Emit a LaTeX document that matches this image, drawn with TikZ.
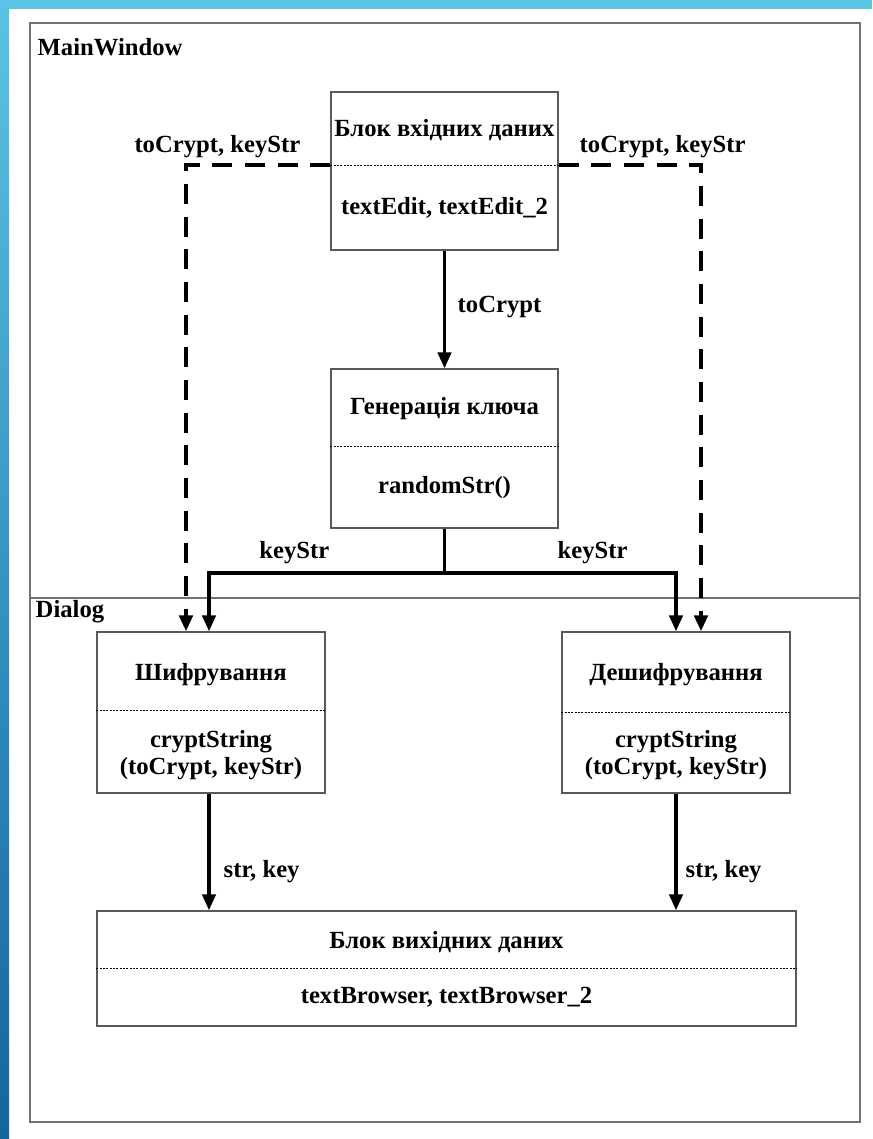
\documentclass[tikz,border=0pt]{standalone}
\usepackage{fontspec}
\setmainfont{Liberation Serif}
\usetikzlibrary{arrows.meta}
\definecolor{bandtop}{RGB}{90,196,228}
\definecolor{bandbot}{RGB}{20,100,160}

\begin{document}
\begin{tikzpicture}[x=.75pt,y=-.75pt,font=\fontsize{18.5}{20}\selectfont\bfseries,
 box/.style={draw=black!65,line width=1pt,inner sep=0pt},
 sep/.style={line width=.6pt,dash pattern=on 1.5pt off 1pt},
 flow/.style={line width=2.6pt,-{Triangle[length=12pt,width=10pt]}},
 opt/.style={line width=3.4pt,dash pattern=on 15pt off 9.5pt,-{Triangle[length=12pt,width=10pt]}},
 frm/.style={draw=black!55,line width=1.6pt}]
 \useasboundingbox (0,0) rectangle (872,1139);
 \fill[white] (0,0) rectangle (872,1139);
 \fill[bandtop] (0,0) rectangle (872,9);
 \shade[top color=bandtop,bottom color=bandbot] (0,0) rectangle (9,1139);
 % windows
 \draw[frm] (30,23) rectangle (860,1122);
 \draw[frm] (30,598) -- (860,598);
 \node[anchor=west] (mw) at (33,47) {MainWindow};
 \node[anchor=west] (dl) at (31,612) {Dialog};
 % blocks
 \node[box,minimum width=170.25pt,minimum height=118.5pt] (inp) at (444.5,171) {};
 \draw[sep] ([yshift=4.5pt]inp.west) -- ([yshift=4.5pt]inp.east);
 \node (inpT) at (444.5,130) {Блок вхідних даних};
 \node (inpB) at (444.5,208) {textEdit, textEdit\_2};
 \node[box,minimum width=170.25pt,minimum height=119.25pt] (gen) at (444.5,448.5) {};
 \draw[sep] ([yshift=1.9pt]gen.west) -- ([yshift=1.9pt]gen.east);
 \node (genT) at (444.5,409) {Генерація ключа};
 \node (genB) at (444.5,488) {randomStr()};
 \node[box,minimum width=171pt,minimum height=120.75pt] (enc) at (211,712.5) {};
 \draw[sep] ([yshift=1.9pt]enc.west) -- ([yshift=1.9pt]enc.east);
 \node (encT) at (211,675) {Шифрування};
 \node[align=center] (encB) at (211,755) {cryptString\\(toCrypt, keyStr)};
 \node[box,minimum width=171pt,minimum height=120.75pt] (dec) at (676,712.5) {};
 \draw[sep] ([yshift=.4pt]dec.west) -- ([yshift=.4pt]dec.east);
 \node (decT) at (676,675) {Дешифрування};
 \node[align=center] (decB) at (676,755) {cryptString\\(toCrypt, keyStr)};
 \node[box,minimum width=524.25pt,minimum height=86.25pt] (out) at (446.5,968.5) {};
 \draw[sep] ([yshift=.4pt]out.west) -- ([yshift=.4pt]out.east);
 \node (outT) at (446.5,942) {Блок вихідних даних};
 \node (outB) at (446.5,997) {textBrowser, textBrowser\_2};
 % connectors
 \coordinate (spl) at (444.5,573);
 \draw[flow] (inp) -- (gen);
 \draw[line width=2.6pt] (gen) -- (spl);
 \draw[flow] (spl) -| ([xshift=-1.5pt]enc.north);
 \draw[flow] (spl) -| (dec.north);
 \draw[opt] ([yshift=4.5pt]inp.west) -| ([xshift=-18.75pt]enc.north);
 \draw[opt] ([yshift=4.5pt]inp.east) -| ([xshift=18.75pt]dec.north);
 \draw[flow] ([xshift=-1.5pt]enc.south) -- ([xshift=-1.5pt]enc.south |- out.north);
 \draw[flow] (dec.south) -- (dec.south |- out.north);
 % labels
 \node[anchor=west] (lc) at (453,307) {toCrypt};
 \node[anchor=east] (lk1) at (334,553) {keyStr};
 \node[anchor=west] (lk2) at (553,553) {keyStr};
 \node[anchor=east] (lo1) at (305,147) {toCrypt, keyStr};
 \node[anchor=west] (lo2) at (575,147) {toCrypt, keyStr};
 \node[anchor=west] (ls1) at (219,872) {str, key};
 \node[anchor=west] (ls2) at (681,872) {str, key};
\end{tikzpicture}
\end{document}
